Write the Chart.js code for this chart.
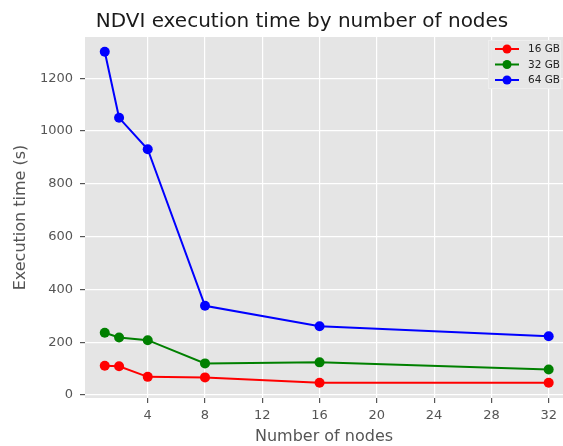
<!DOCTYPE html>
<html>
<head>
<meta charset="utf-8">
<script src="https://cdn.jsdelivr.net/npm/chart.js@4.4.0/dist/chart.umd.min.js"></script>
<style>
    html, body { margin: 0; padding: 0; background: #ffffff; overflow: hidden; }
</style>
</head>
<body>
<canvas id="ndviChart" width="563" height="446"></canvas>
<script>
// values
var nodes = [1, 2, 4, 8, 16, 32];
var time16 = [111, 109, 69, 67, 47, 47];
var time32 = [236, 218, 208, 120, 124, 97];
var time64 = [1300, 1050, 931, 338, 261, 223];
var seriesLabels = ["16 GB", "32 GB", "64 GB"];
var seriesColors = ["#ff0000", "#008000", "#0000ff"];
var xTicks = [4, 8, 12, 16, 20, 24, 28, 32];
var yTicks = [0, 200, 400, 600, 800, 1000, 1200];
var chartTitle = "NDVI execution time by number of nodes";

Chart.defaults.font.family = "'DejaVu Sans', sans-serif";

function toPoints(values) {
    var pts = [];
    for (var i = 0; i < nodes.length; i++) {
        pts.push({ x: nodes[i], y: values[i] });
    }
    return pts;
}

function makeDataset(idx, values) {
    return {
        label: seriesLabels[idx],
        data: toPoints(values),
        borderColor: seriesColors[idx],
        backgroundColor: seriesColors[idx],
        pointBackgroundColor: seriesColors[idx],
        pointBorderWidth: 0,
        pointRadius: 5,
        borderWidth: 2,
        tension: 0
    };
}

function plainTick(value) {
    return String(value);
}

// grey ggplot panel
var panelPlugin = {
    id: 'panel',
    beforeDraw: function (chart) {
        var ctx = chart.ctx, a = chart.chartArea;
        ctx.save();
        ctx.fillStyle = '#ffffff';
        ctx.fillRect(0, 0, chart.width, chart.height);
        ctx.fillStyle = '#e5e5e5';
        ctx.fillRect(a.left, a.top, a.right - a.left, a.bottom - a.top);
        ctx.restore();
    }
};

var titlePlugin = {
    id: 'plotTitle',
    afterDraw: function (chart) {
        var ctx = chart.ctx;
        ctx.save();
        ctx.fillStyle = '#1a1a1a';
        ctx.font = "20px 'DejaVu Sans', sans-serif";
        ctx.textAlign = 'center';
        ctx.textBaseline = 'alphabetic';
        ctx.fillText(chartTitle, 302, 27);
        ctx.restore();
    }
};

var legendPlugin = {
    id: 'boxLegend',
    afterDatasetsDraw: function (chart) {
        var ctx = chart.ctx;
        var sets = chart.data.datasets;
        var x0 = 488, y0 = 40, w = 73, h = 49;
        ctx.save();
        ctx.fillStyle = 'rgba(229,229,229,0.9)';
        ctx.strokeStyle = '#eeeeee';
        ctx.lineWidth = 1;
        ctx.fillRect(x0, y0, w, h);
        ctx.strokeRect(x0 + 0.5, y0 + 0.5, w - 1, h - 1);
        ctx.font = "10.5px 'DejaVu Sans', sans-serif";
        ctx.textBaseline = 'middle';
        ctx.textAlign = 'left';
        for (var i = 0; i < sets.length; i++) {
            var y = 49 + i * 15.5;
            ctx.strokeStyle = sets[i].borderColor;
            ctx.lineWidth = 2;
            ctx.beginPath();
            ctx.moveTo(495, y);
            ctx.lineTo(519, y);
            ctx.stroke();
            ctx.fillStyle = sets[i].borderColor;
            ctx.beginPath();
            ctx.arc(507, y, 4.5, 0, Math.PI * 2);
            ctx.fill();
            ctx.fillStyle = '#222222';
            ctx.fillText(sets[i].label, 528, y + 0.5);
        }
        ctx.restore();
    }
};

var ndviChart = new Chart("ndviChart", {
    type: "line",
    data: {
        datasets: [
            makeDataset(0, time16),
            makeDataset(1, time32),
            makeDataset(2, time64)
        ]
    },
    options: {
        responsive: false,
        animation: false,
        layout: { autoPadding: false, padding: { top: 37, right: 0, bottom: 0, left: 0 } },
        plugins: {
            legend: { display: false },
            title: { display: false },
            tooltip: { enabled: false }
        },
        scales: {
            x: {
                type: 'linear',
                min: -0.38,
                max: 33,
                afterBuildTicks: function (scale) {
                    scale.ticks = xTicks.map(function (v) { return { value: v }; });
                },
                afterFit: function (scale) { scale.height = 48; },
                border: { display: false },
                grid: { color: '#ffffff', lineWidth: 1.2, tickColor: '#555555', tickLength: 5 },
                ticks: { color: '#555555', font: { size: 13 }, padding: 5, maxRotation: 0, autoSkip: false, callback: plainTick },
                title: { display: true, text: 'Number of nodes', color: '#555555', font: { size: 16 }, padding: { top: 0, bottom: 0 } }
            },
            y: {
                min: -11,
                max: 1356,
                afterBuildTicks: function (scale) {
                    scale.ticks = yTicks.map(function (v) { return { value: v }; });
                },
                afterFit: function (scale) { scale.width = 85; },
                border: { display: false },
                grid: { color: '#ffffff', lineWidth: 1.2, tickColor: '#555555', tickLength: 5 },
                ticks: { color: '#555555', font: { size: 13 }, padding: 7, callback: plainTick },
                title: { display: true, text: 'Execution time (s)', color: '#555555', font: { size: 16 }, padding: { top: 11, bottom: 11 } }
            }
        }
    },
    plugins: [panelPlugin, titlePlugin, legendPlugin]
});
</script>
</body>
</html>
